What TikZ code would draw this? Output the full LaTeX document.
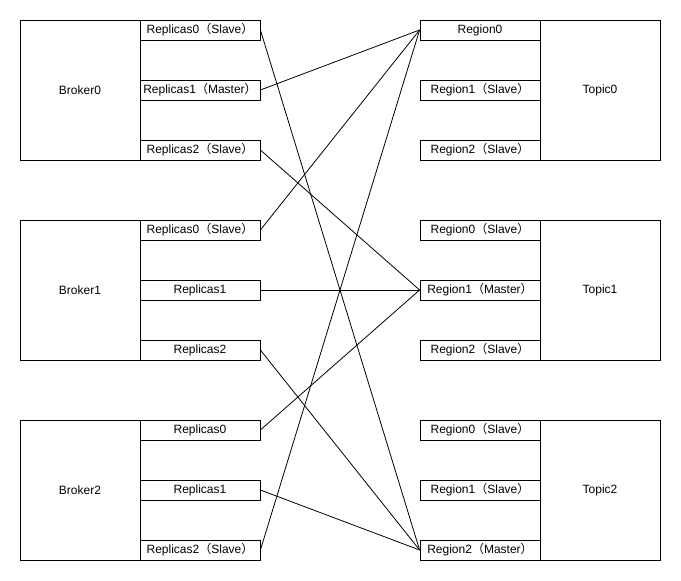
\documentclass[tikz,border=0pt]{standalone}
\usepackage{fontspec}
\setmainfont{Liberation Sans}
\newfontfamily\cjk{Noto Sans CJK SC}
\newcommand*\role[1]{{\cjk （}#1{\cjk ）}}
\tikzset{big box/.style={draw,rectangle,inner sep=0pt,minimum width=90pt,minimum height=105pt},
         slot/.style={draw,rectangle,inner sep=0pt,minimum width=90pt,minimum height=15pt},
         link/.style={draw,line width=0.6pt}}
\begin{document}
\begin{tikzpicture}[x=0.75pt,y=-0.75pt,line width=0.6pt,font=\fontsize{9pt}{11pt}\selectfont]
\useasboundingbox (0,0) rectangle (681,581);
% brokers and their replicas
\foreach \i/\a/\b/\c in {0/\role{Slave}/\role{Master}/\role{Slave},
                         1/\role{Slave}//,
                         2///\role{Slave}} {
  \node[big box] (b\i) at (80,90+200*\i) {Broker\i};
  \node[slot] (b\i r0) at (200,30+200*\i) {Replicas0\a};
  \node[slot] (b\i r1) at (200,90+200*\i) {Replicas1\b};
  \node[slot] (b\i r2) at (200,150+200*\i) {Replicas2\c};
}
% topics and their regions
\foreach \i/\a/\b/\c in {0//\role{Slave}/\role{Slave},
                         1/\role{Slave}/\role{Master}/\role{Slave},
                         2/\role{Slave}/\role{Slave}/\role{Master}} {
  \node[big box] (t\i) at (600,90+200*\i) {Topic\i};
  \node[slot] (t\i r0) at (480,30+200*\i) {Region0\a};
  \node[slot] (t\i r1) at (480,90+200*\i) {Region1\b};
  \node[slot] (t\i r2) at (480,150+200*\i) {Region2\c};
}
% replica to region
\foreach \src/\dst in {b0r0/t2r2,b0r1/t0r0,b0r2/t1r1,
                       b1r0/t0r0,b1r1/t1r1,b1r2/t2r2,
                       b2r0/t1r1,b2r1/t2r2,b2r2/t0r0}
  \draw[link] (\src.east) -- (\dst.west);
\end{tikzpicture}
\end{document}
